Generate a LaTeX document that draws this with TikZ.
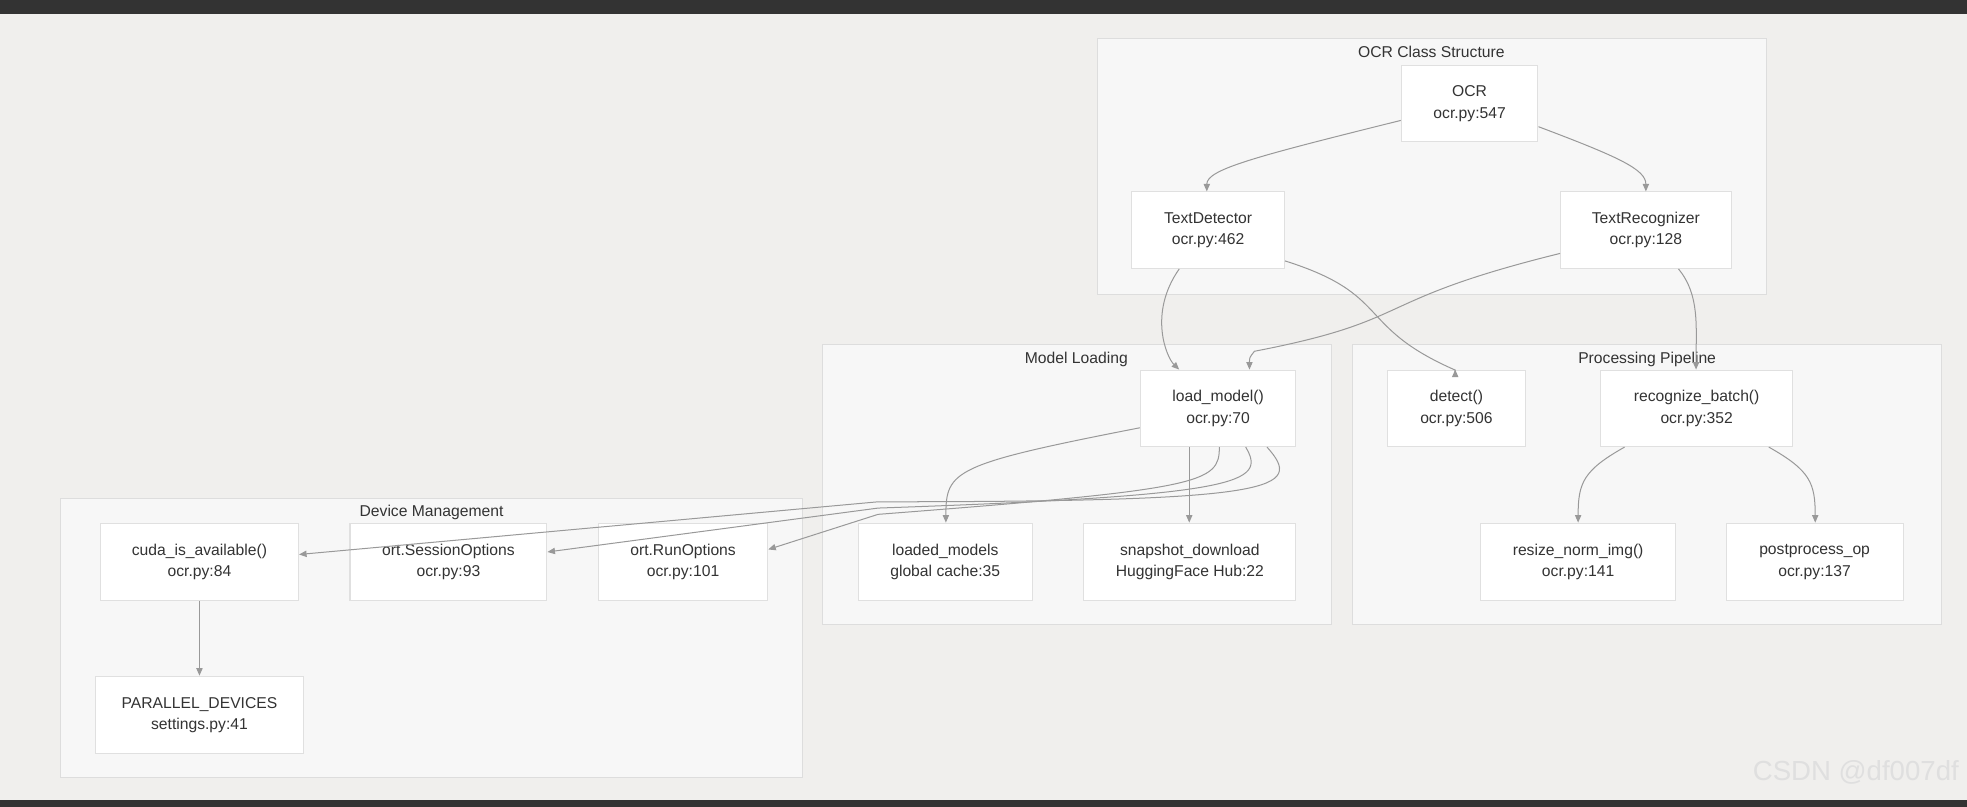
\documentclass[tikz,border=0pt]{standalone}
\usepackage{fontspec}
\setmainfont{Liberation Sans}
\usetikzlibrary{arrows.meta}
\definecolor{bg}{HTML}{F0EFED}
\definecolor{cl}{HTML}{F7F7F7}
\definecolor{clb}{HTML}{DDDDDD}
\definecolor{nb}{HTML}{E0E0E0}
\definecolor{ed}{HTML}{999999}
\definecolor{tx}{HTML}{333333}
\begin{document}
\begin{tikzpicture}[x=1pt,y=-1pt,
  cluster/.style={draw=clb,fill=cl,line width=0.8pt},
  ctitle/.style={font=\fontsize{12.5}{14}\selectfont,text=tx,anchor=north},
  box/.style={draw=nb,fill=white,line width=0.8pt,align=center,inner sep=0pt,
    font=\fontsize{12.5}{17}\selectfont,text=tx},
  e/.style={draw=ed,line width=0.8pt,-{Triangle[length=6pt,width=5pt]}}]
\useasboundingbox (0,0) rectangle (1568,643);
\fill[bg] (0,0) rectangle (1568,643);
\fill[black!80] (0,0) rectangle (1568,11);
\fill[black!80] (0,638) rectangle (1568,643);
% clusters
\draw[cluster] (875,31) rectangle (1408,235);
\node[ctitle] (t1) at (1141,33) {OCR Class Structure};
\draw[cluster] (656,275) rectangle (1061,498);
\node[ctitle] (t2) at (858,277) {Model Loading};
\draw[cluster] (1078,275) rectangle (1548,498);
\node[ctitle] (t3) at (1313,277) {Processing Pipeline};
\draw[cluster] (48,397) rectangle (640,620);
\node[ctitle] (t4) at (344,399) {Device Management};
% nodes
\newcommand{\bx}[6]{\node[box,minimum width=#4-#2,minimum height=#5-#3] (#1) at ({(#2+#4)/2},{(#3+#5)/2}) {#6};}
\bx{ocr}{1117}{52}{1226}{113}{OCR\\ocr.py:547}
\bx{td}{902}{153}{1024}{214}{TextDetector\\ocr.py:462}
\bx{tr}{1244}{153}{1380}{214}{TextRecognizer\\ocr.py:128}
\bx{lm}{909}{295}{1033}{356}{load\_model()\\ocr.py:70}
\bx{det}{1106}{295}{1216}{356}{detect()\\ocr.py:506}
\bx{rb}{1276}{295}{1429}{356}{recognize\_batch()\\ocr.py:352}
\bx{lmod}{684}{417}{823}{479}{loaded\_models\\global cache:35}
\bx{sd}{864}{417}{1033}{479}{snapshot\_download\\HuggingFace Hub:22}
\bx{rn}{1180}{417}{1336}{479}{resize\_norm\_img()\\ocr.py:141}
\bx{pp}{1376}{417}{1517}{479}{postprocess\_op\\ocr.py:137}
\bx{cuda}{80}{417}{238}{479}{cuda\_is\_available()\\ocr.py:84}
\bx{so}{279}{417}{436}{479}{ort.SessionOptions\\ocr.py:93}
\bx{ro}{477}{417}{612}{479}{ort.RunOptions\\ocr.py:101}
\bx{pd}{76}{539}{242}{601}{PARALLEL\_DEVICES\\settings.py:41}
% edges
\draw[e] (ocr.west |- 0,96) .. controls (1000,125) and (962,135) .. (td.north -| 962,0);
\draw[e] (ocr.east |- 0,101) .. controls (1290,125) and (1312,135) .. (tr.north -| 1312,0);
\draw[e] (td.south -| 940,0) .. controls (915,250) and (930,285) .. (lm.north -| 940,0);
\draw[e] (td.east |- 0,208) .. controls (1110,235) and (1080,260) .. (1160,295) -- (det.north -| 1160,0);
\draw[e] (tr.west |- 0,202) .. controls (1090,240) and (1130,255) .. (1000,280) .. controls (996,285) .. (lm.north -| 996,0);
\draw[e] (tr.south -| 1338,0) .. controls (1355,235) and (1352,260) .. (rb.north -| 1352,0);
\draw[e] (lm.west |- 0,341) .. controls (760,370) and (754,375) .. (lmod.north -| 754,0);
\draw[e] (lm.south -| 948,0) -- (sd.north -| 948,0);
\draw[e] (lm.south -| 972,0) .. controls (972,385) and (960,390) .. (700,410) -- (ro.east |- 0,438);
\draw[e] (lm.south -| 993,0) .. controls (1010,385) and (990,395) .. (700,405) -- (so.east |- 0,440);
\draw[e] (lm.south -| 1010,0) .. controls (1040,390) and (1020,400) .. (700,400) -- (cuda.east |- 0,442);
\draw[e] (rb.south -| 1295,0) .. controls (1262,375) and (1258,385) .. (rn.north -| 1258,0);
\draw[e] (rb.south -| 1410,0) .. controls (1443,375) and (1447,385) .. (pp.north -| 1447,0);
\draw[e] (cuda.south -| 159,0) -- (pd.north -| 159,0);
\node[font=\fontsize{22}{24}\selectfont,text=white!75!gray,anchor=east] (wm) at (1565,616) {CSDN @df007df};
\end{tikzpicture}
\end{document}
